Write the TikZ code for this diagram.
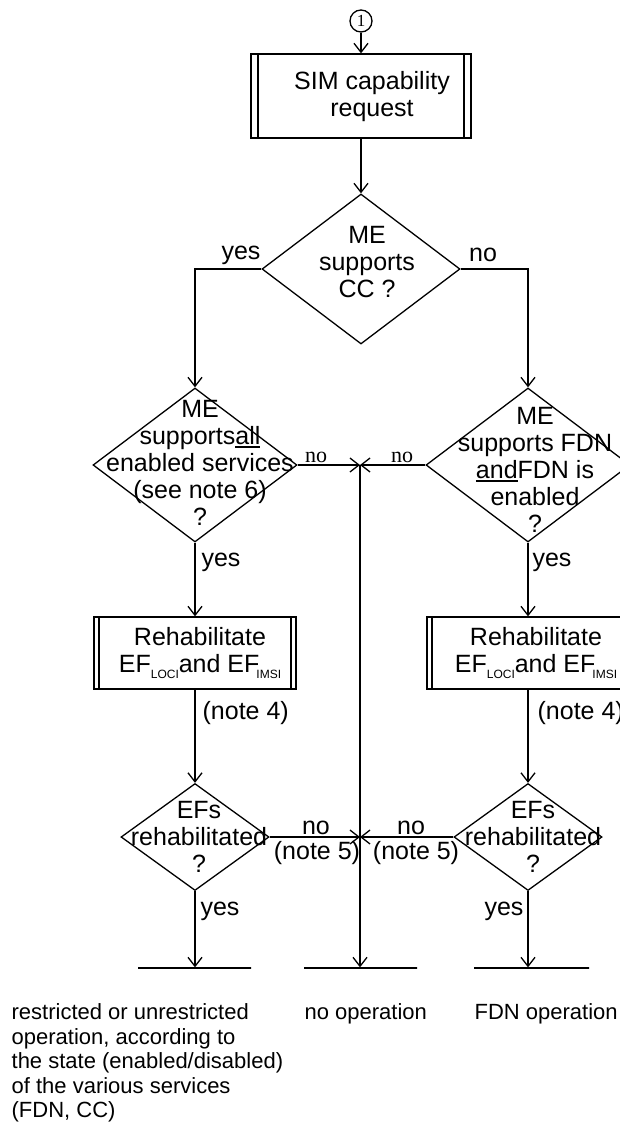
\documentclass[tikz,border=0pt]{standalone}
\usepackage{fontspec}
\setmainfont{Liberation Sans}
\newfontfamily\serifont{Liberation Serif}
\usetikzlibrary{shapes.geometric,arrows.meta}
\newcommand\myul[1]{\leavevmode\vtop{\hbox{#1}\kern1.2pt\hrule height 1.5pt}}
\newcommand\sbs[1]{\lower6pt\hbox{\fontsize{12}{12}\selectfont #1}}
\begin{document}
\begin{tikzpicture}[x=1pt,y=-1pt,line width=1.3pt,
  >={Straight Barb[length=9pt,width=14pt]},
  txt/.style={font=\fontsize{25}{27}\selectfont,align=center,inner sep=0pt},
  lbl/.style={font=\fontsize{25}{27}\selectfont,inner sep=0pt},
  slbl/.style={font=\serifont\fontsize{22}{24}\selectfont,inner sep=0pt},
  btxt/.style={font=\fontsize{22}{24.5}\selectfont,align=left,inner sep=0pt,anchor=north west},
  dia/.style={draw,diamond,inner sep=0pt},
  predef/.style={draw,rectangle,inner sep=0pt,
    path picture={
      \draw ([xshift=#1]path picture bounding box.north west) -- ([xshift=#1]path picture bounding box.south west);
      \draw ([xshift=-#1]path picture bounding box.north east) -- ([xshift=-#1]path picture bounding box.south east);}},
  endbar/.style={draw,rectangle,minimum height=0pt,inner sep=0pt,minimum width=#1}]
\useasboundingbox (0,0) rectangle (620,1122);
\clip (0,0) rectangle (620,1122);
% top
\node[circle,draw,minimum size=22pt,inner sep=0pt,font=\serifont\fontsize{17}{17}\selectfont] (c1) at (361,21) {1};
\node[predef=7pt,minimum width=220pt,minimum height=84pt] (b1) at (361,96) {};
\node[txt] (b1t) at (372,97) {SIM capability\\request};
\node[dia,minimum width=198pt,minimum height=150pt] (d1) at (361,269) {};
\node[txt] (d1t) at (367,262) {ME\\supports\\CC ?};
% second level diamonds
\node[dia,minimum width=204pt,minimum height=154pt] (dL) at (195,465) {};
\node[txt] (dLt) at (200,463) {ME\\supports\myul{all}\\enabled services\\(see note 6)\\?};
\node[dia,minimum width=204pt,minimum height=154pt] (dR) at (528,465) {};
\node[txt] (dRt) at (535,470) {ME\\supports FDN\\\myul{and}FDN is\\enabled\\?};
% rehabilitate boxes
\node[predef=5pt,minimum width=202pt,minimum height=72pt] (rL) at (195,653) {};
\node[txt] (rLt) at (200,653) {Rehabilitate\\EF\sbs{LOCI}and EF\kern-3pt\sbs{IMSI}};
\node[predef=5pt,minimum width=202pt,minimum height=72pt] (rR) at (528,653) {};
\node[txt] (rRt) at (536,653) {Rehabilitate\\EF\sbs{LOCI}and EF\kern-3pt\sbs{IMSI}};
% lower diamonds
\node[dia,minimum width=148pt,minimum height=107pt] (eL) at (195,837) {};
\node[txt] (eLt) at (199,837) {EFs\\rehabilitated\\?};
\node[dia,minimum width=148pt,minimum height=107pt] (eR) at (528,837) {};
\node[txt] (eRt) at (533,837) {EFs\\rehabilitated\\?};
% end bars
\node[endbar=113pt] (barL) at (194.5,968) {};
\node[endbar=113pt] (barM) at (360.5,968) {};
\node[endbar=115pt] (barR) at (531.5,968) {};
\node[btxt] (tL) at (11,1003) {restricted or unrestricted\\operation, according to\\the state (enabled/disabled)\\of the various services\\(FDN, CC)};
\node[btxt] (tM) at (304,1003) {no operation};
\node[btxt] (tR) at (474,1003) {FDN operation};
% junctions
\coordinate (j1) at (360,465);
\coordinate (j2) at (360,837);
% connectors
\draw[->] (c1) -- (b1);
\draw[->] (b1) -- (d1);
\draw[->] (d1.west) -- (dL.north |- d1.west) -- (dL.north);
\draw[->] (d1.east) -- (dR.north |- d1.east) -- (dR.north);
\draw[->] (dL.south) -- (rL.north);
\draw[->] (dR.south) -- (rR.north);
\draw[->] (rL.south) -- (eL.north);
\draw[->] (rR.south) -- (eR.north);
\draw[->] (eL.south) -- (eL.south |- barL.north);
\draw[->] (eR.south) -- (eR.south |- barR.north);
\draw[->] (dL.east) -- (j1);
\draw[->] (dR.west) -- (j1);
\draw[->] (j1) -- (j1 |- barM.north);
\draw[->] (eL.east) -- (j2);
\draw[->] (eR.west) -- (j2);
% labels
\node[lbl,anchor=base] (ly1) at (241,259) {yes};
\node[lbl,anchor=base] (ln1) at (483,261) {no};
\node[slbl,anchor=base] (ln2) at (316,462) {no};
\node[slbl,anchor=base] (ln3) at (402,462) {no};
\node[lbl,anchor=base] (ly2) at (221,566) {yes};
\node[lbl,anchor=base] (ly3) at (552,566) {yes};
\node[lbl,anchor=base west] (n4L) at (202,719) {(note 4)};
\node[lbl,anchor=base west] (n4R) at (537,719) {(note 4)};
\node[lbl,anchor=base] (ln5) at (316,834) {no};
\node[lbl,anchor=base] (n5L) at (317,859) {(note 5)};
\node[lbl,anchor=base] (ln6) at (411,834) {no};
\node[lbl,anchor=base] (n5R) at (416,859) {(note 5)};
\node[lbl,anchor=base] (ly4) at (220,915) {yes};
\node[lbl,anchor=base] (ly5) at (504,915) {yes};
\end{tikzpicture}
\end{document}
